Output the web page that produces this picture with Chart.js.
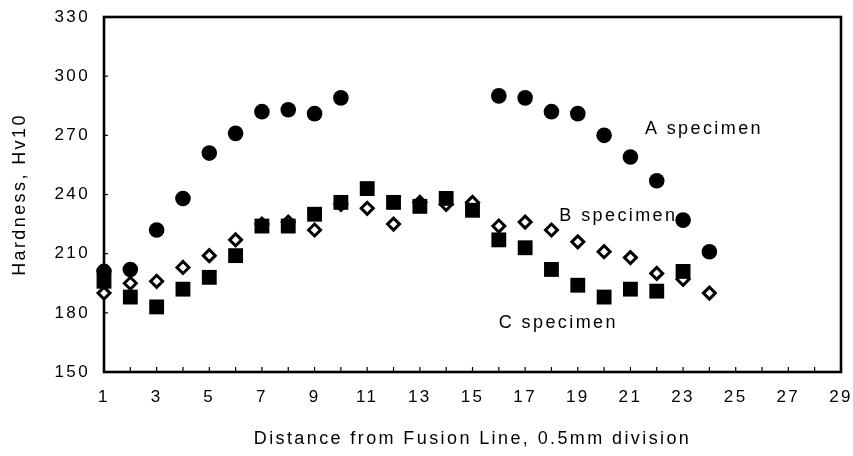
<!DOCTYPE html>
<html><head><meta charset="utf-8">
<style>html,body{margin:0;padding:0;background:#fff}</style>
<script src="https://cdn.jsdelivr.net/npm/chart.js@4/dist/chart.umd.min.js"></script>
</head><body>
<canvas id="c" width="853" height="456"></canvas>
<script>
// Data
const xA = [1,2,3,4,5,6,7,8,9,10,16,17,18,19,20,21,22,23,24];
const hardnessA = [201,202,222,238,261,271,282,283,281,289,290,289,282,281,270,259,247,227,211];
const xB = [1,2,3,4,5,6,7,8,9,10,11,12,13,14,15,16,17,18,19,20,21,22,23,24];
const hardnessB = [190,195,196,203,209,217,225,226,222,235,233,225,236,235,236,224,226,222,216,211,208,200,197,190];
const xC = [1,2,3,4,5,6,7,8,9,10,11,12,13,14,15,16,17,18,19,20,21,22,23];
const hardnessC = [196,188,183,192,198,209,224,224,230,236,243,236,234,238,232,217,213,202,194,188,192,191,201];
const xTicks = [1,3,5,7,9,11,13,15,17,19,21,23,25,27,29];
const yTicks = [150,180,210,240,270,300,330];
const labels = [
  {text:'A specimen', x:21.55, y:273},
  {text:'B specimen', x:18.3, y:229},
  {text:'C specimen', x:16.0, y:175}
];

const FONT = "'Liberation Sans', Arial, sans-serif";
const SPACING = '2.4px';
const toPts = (xs, ys) => xs.map((x,i)=>({x, y: ys[i]}));

const spacingPlugin = {
  id: 'spacing',
  beforeLayout(chart) { chart.ctx.letterSpacing = SPACING; },
  beforeDraw(chart) { chart.ctx.letterSpacing = SPACING; }
};

const framePlugin = {
  id: 'frame',
  beforeDatasetsDraw(chart) {
    const {ctx, chartArea: a, scales: {x, y}} = chart;
    ctx.save();
    ctx.strokeStyle = '#000';
    ctx.lineWidth = 1.2;
    for (let v = 1; v <= 29; v++) {
      const px = x.getPixelForValue(v);
      ctx.beginPath(); ctx.moveTo(px, a.bottom); ctx.lineTo(px, a.bottom - 5); ctx.stroke();
    }
    yTicks.forEach(v => {
      const py = y.getPixelForValue(v);
      ctx.beginPath(); ctx.moveTo(a.left, py); ctx.lineTo(a.left + 4, py); ctx.stroke();
    });
    ctx.lineWidth = 2.6;
    ctx.strokeRect(a.left, a.top, a.right - a.left, a.bottom - a.top);
    ctx.fillStyle = '#000';
    ctx.letterSpacing = SPACING;
    ctx.font = '18px ' + FONT;
    ctx.textBaseline = 'middle';
    ctx.textAlign = 'left';
    labels.forEach(l => ctx.fillText(l.text, x.getPixelForValue(l.x), y.getPixelForValue(l.y)));
    ctx.restore();
  }
};

new Chart(document.getElementById('c'), {
  type: 'scatter',
  data: {
    datasets: [
      {label:'A specimen', data: toPts(xA, hardnessA), pointStyle:'circle', pointRadius:7.8,
       backgroundColor:'#000', borderColor:'#000', borderWidth:0, order:0, clip:false},
      {label:'C specimen', data: toPts(xC, hardnessC), pointStyle:'rect', pointRadius:10.5,
       backgroundColor:'#000', borderColor:'#000', borderWidth:0, order:1, clip:false},
      {label:'B specimen', data: toPts(xB, hardnessB), pointStyle:'rectRot', pointRadius:6,
       backgroundColor:'#fff', borderColor:'#000', borderWidth:3, order:2, clip:false}
    ]
  },
  options: {
    responsive: false,
    animation: false,
    layout: {padding: {top:17, right:12, left:0, bottom:0}},
    plugins: {legend:{display:false}, tooltip:{enabled:false}},
    scales: {
      x: {
        type:'linear', min:1, max:29,
        afterBuildTicks: s => { s.ticks = xTicks.map(v=>({value:v})); },
        afterFit: s => { s.height = 84; s.paddingLeft = 0; s.paddingRight = 0; },
        grid:{display:false, drawTicks:false}, border:{display:false},
        ticks:{color:'#000', font:{family:FONT, size:17}, padding:15, maxRotation:0, autoSkip:false},
        title:{display:true, text:'Distance from Fusion Line, 0.5mm division', color:'#000',
               font:{family:FONT, size:18}, padding:{top:0, bottom:6}}
      },
      y: {
        type:'linear', min:150, max:330,
        afterBuildTicks: s => { s.ticks = yTicks.map(v=>({value:v})); },
        afterFit: s => { s.width = 104; s.paddingTop = 0; s.paddingBottom = 0; },
        grid:{display:false, drawTicks:false}, border:{display:false},
        ticks:{color:'#000', font:{family:FONT, size:17}, padding:14},
        title:{display:true, text:'Hardness, Hv10', color:'#000',
               font:{family:FONT, size:18}, padding:{top:9, bottom:0}}
      }
    }
  },
  plugins: [spacingPlugin, framePlugin]
});
</script>
</body></html>
